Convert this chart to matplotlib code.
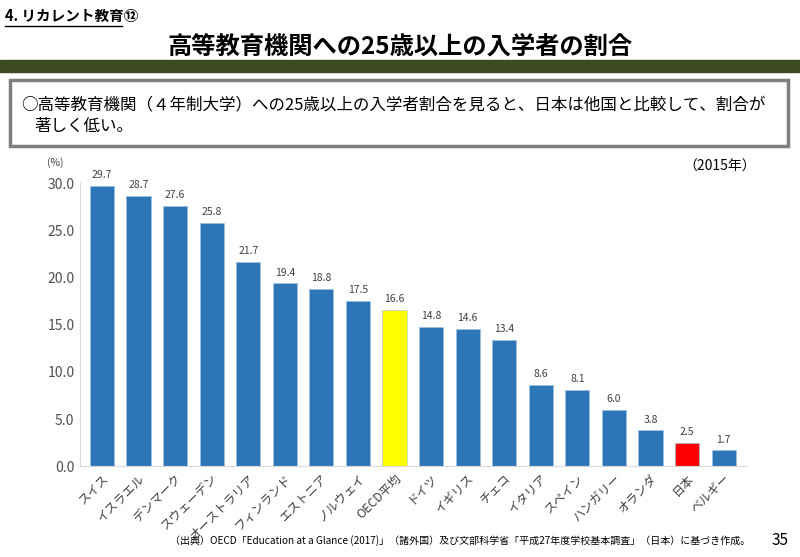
import matplotlib.pyplot as plt
from matplotlib.patches import Rectangle

plt.rcParams['font.family'] = ['Noto Sans CJK JP', 'DejaVu Sans']

# data
countries = ["スイス", "イスラエル", "デンマーク", "スウェーデン", "オーストラリア", "フィンランド",
             "エストニア", "ノルウェイ", "OECD平均", "ドイツ", "イギリス", "チェコ", "イタリア",
             "スペイン", "ハンガリー", "オランダ", "日本", "ベルギー"]
values = [29.7, 28.7, 27.6, 25.8, 21.7, 19.4, 18.8, 17.5, 16.6, 14.8, 14.6, 13.4, 8.6, 8.1, 6.0, 3.8, 2.5, 1.7]
yticks = [0, 5, 10, 15, 20, 25, 30]

colors = []
for c in countries:
    if c == "OECD平均":
        colors.append("#ffff00")
    elif c == "日本":
        colors.append("#ff0000")
    else:
        colors.append("#2e75b6")

fig = plt.figure(figsize=(8, 5.57), dpi=100)

# header
fig.text(0.006, 0.972, "4. リカレント教育⑫", fontsize=10.5, fontweight='bold', va='center', ha='left')
fig.add_artist(plt.Line2D([0.006, 0.153], [0.953, 0.953], color='k', linewidth=1))
fig.text(0.5, 0.915, "高等教育機関への25歳以上の入学者の割合", fontsize=17.5, fontweight='bold',
         va='center', ha='center')
fig.add_artist(Rectangle((0, 1 - 72 / 557), 1, 12 / 557, color='#3d4a1f', transform=fig.transFigure))

# text box
fig.add_artist(Rectangle((0.012, 1 - 146 / 557), 0.973, 66 / 557, facecolor='white',
                         edgecolor='#7f7f7f', linewidth=2.5, transform=fig.transFigure))
fig.text(0.027, 0.812, "○高等教育機関（４年制大学）への25歳以上の入学者割合を見ると、日本は他国と比較して、割合が",
         fontsize=11.9, va='center', ha='left')
fig.text(0.043, 0.773, "著しく低い。", fontsize=11.9, va='center', ha='left')

# chart
ax = fig.add_axes([0.1, 0.163, 0.832, 0.508])
x = range(len(countries))
ax.bar(x, values, width=0.66, color=colors, edgecolor='#9dc3e6', linewidth=0.4)
for xi, v in zip(x, values):
    ax.text(xi, v + 0.6, f"{v:.1f}", ha='center', va='bottom', fontsize=7.5, color='#404040')
ax.set_ylim(0, 30)
ax.set_xlim(-0.6, len(countries) - 0.4)
ax.set_yticks(yticks)
ax.set_yticklabels([f"{t:.1f}" for t in yticks], fontsize=10, color='#505050')
ax.set_xticks(list(x))
ax.set_xticklabels(countries, rotation=45, ha='right', rotation_mode='anchor', fontsize=8.8, color='#404040')
ax.tick_params(axis='both', length=0, pad=4)
for s in ['top', 'right']:
    ax.spines[s].set_visible(False)
ax.spines['left'].set_color('#d9d9d9')
ax.spines['bottom'].set_color('#d9d9d9')
ax.text(-0.037, 1.06, "(%)", transform=ax.transAxes, fontsize=7.5, color='#404040', ha='center')
fig.text(0.9, 0.7, "（2015年）", fontsize=10, ha='center', va='center')

# footer
fig.text(0.212, 0.03, "（出典）OECD「Education at a Glance (2017)」（諸外国）及び文部科学省「平成27年度学校基本調査」（日本）に基づき作成。",
         fontsize=7.2, va='center', ha='left')
fig.text(0.975, 0.03, "35", fontsize=11, va='center', ha='center')

fig.savefig("out.png", dpi=100)
